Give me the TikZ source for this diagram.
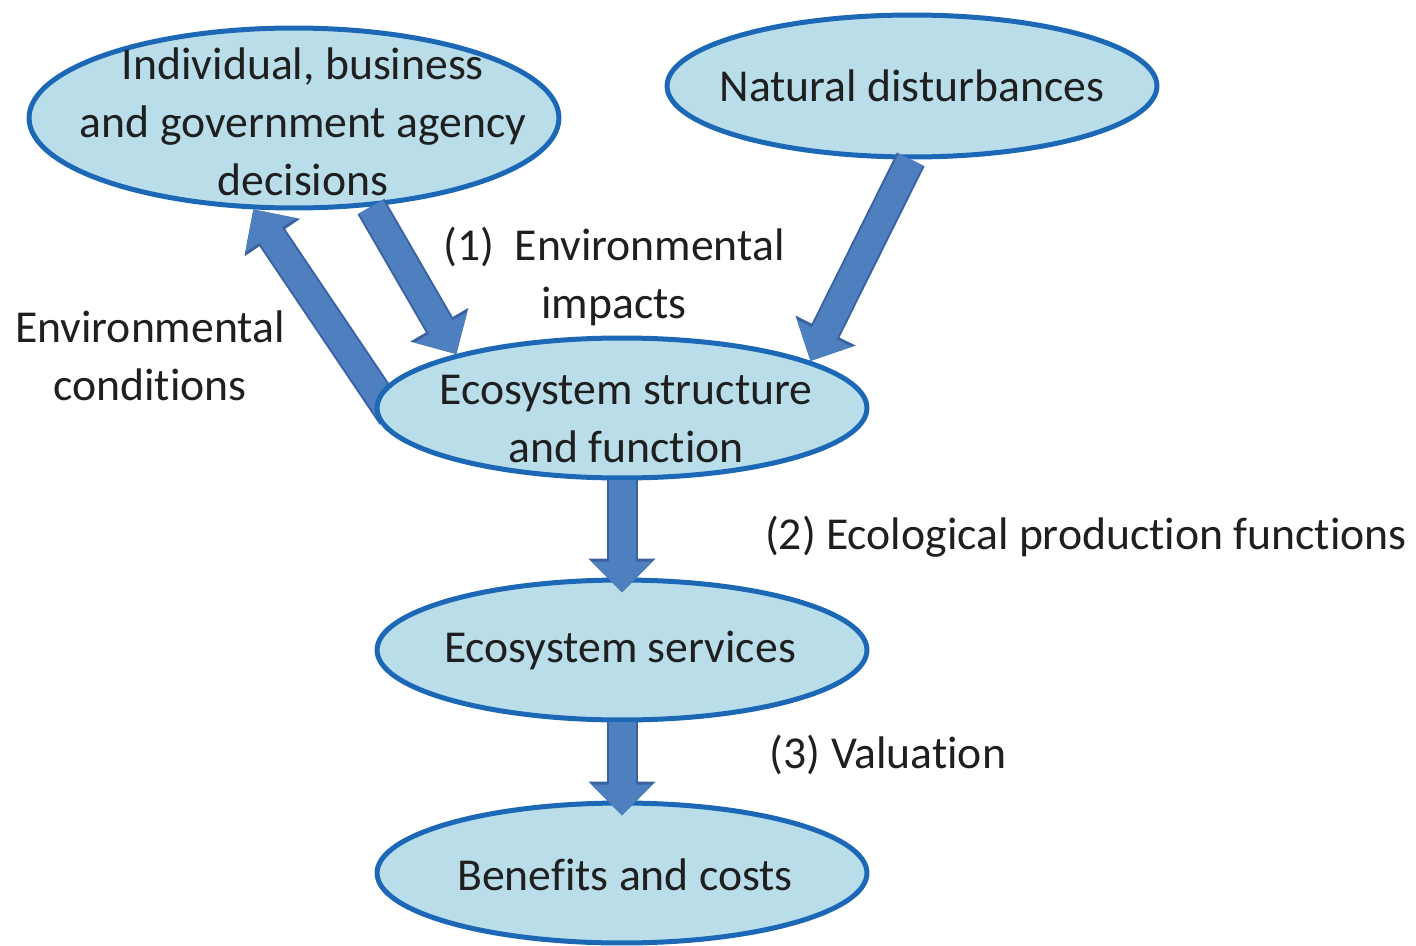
\documentclass[tikz,border=0pt]{standalone}
\usepackage{fontspec}
\setmainfont{Carlito}[Ligatures=NoCommon]
\usetikzlibrary{shapes.geometric,arrows.meta,calc}
\definecolor{bubblefill}{RGB}{185,222,234}
\definecolor{bubbleline}{RGB}{28,104,182}
\definecolor{flowblue}{RGB}{78,128,192}
\definecolor{flowedge}{RGB}{58,98,160}
\pgfdeclarelayer{back}
\pgfsetlayers{back,main}

\begin{document}
\begin{tikzpicture}[x=0.02cm, y=-0.02cm,
		bubble/.style={ellipse, draw=bubbleline, line width=0.1cm, fill=bubblefill, inner sep=0pt},
		txt/.style={align=center, font=\fontsize{26}{33}\selectfont, inner sep=0pt, text=black!88},
		flow/.style={draw=flowblue, line width=0.54cm, -{Triangle[width=1.18cm, length=0.62cm]},
			preaction={draw=flowedge, line width=0.62cm, -{Triangle[width=1.3cm, length=0.68cm]}}}]
		%%%%% START %%%%%
		
		\useasboundingbox (0,0) rectangle (1416,946);
		
		\node[bubble, minimum width=10.6cm, minimum height=3.6cm] (dec) at (294,118) {};
		\node[bubble, minimum width=9.8cm, minimum height=2.84cm] (nat) at (912,86) {};
		\node[bubble, minimum width=9.8cm, minimum height=2.8cm] (eco) at (622,408) {};
		\node[bubble, minimum width=9.8cm, minimum height=2.8cm] (serv) at (622,650) {};
		\node[bubble, minimum width=9.8cm, minimum height=2.8cm] (ben) at (622,873) {};
		
		\draw[flow] (dec.311) -- (eco.162.5);
		\begin{pgfonlayer}{back}
			\draw[flow] ($(eco.177)!-0.5cm!(dec.246)$) -- (dec.246);
		\end{pgfonlayer}
		\draw[flow] (nat.269) -- (eco.14.6);
		\draw[flow] (eco.south) -- ([yshift=-0.3cm]serv.north);
		\draw[flow] (serv.south) -- ([yshift=-0.3cm]ben.north);
		
		\node[txt] (dec-t) at (303,122) {Individual, business\\and government agency\\decisions};
		\node[txt] (nat-t) at (912,86) {Natural disturbances};
		\node[txt] (eco-t) at (626,419) {Ecosystem structure\\and function};
		\node[txt] (serv-t) at (620,650) {Ecosystem services};
		\node[txt] (ben-t) at (625,875) {Benefits and costs};
		
		\node[txt] (impact) at (614,276) {(1)~~Environmental\\impacts};
		\node[txt] (cond) at (150,356) {Environmental\\conditions};
		\node[txt] (prod) at (1086,537) {(2) Ecological production functions};
		\node[txt] (value) at (888,755) {(3) Valuation};
		
		%%%%% END %%%%%
\end{tikzpicture}
\end{document}
